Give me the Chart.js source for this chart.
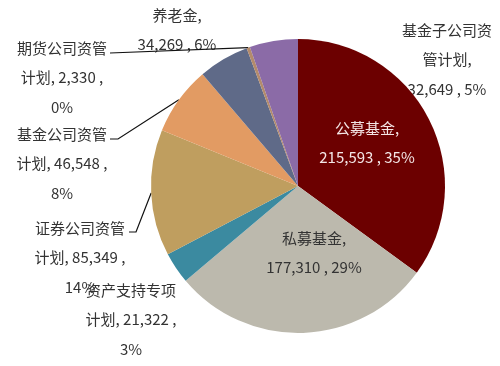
<!DOCTYPE html>
<html>
<head>
<meta charset="utf-8">
<script src="https://cdn.jsdelivr.net/npm/chart.js@4"></script>
<style>
  html, body { margin: 0; padding: 0; background: #fff; }
  #wrap { width: 500px; height: 366px; }
</style>
</head>
<body>
<div id="wrap"><canvas id="myChart" width="500" height="366"></canvas></div>
<script>
// --- DATA ---
const categories = ['公募基金', '私募基金', '资产支持专项计划', '证券公司资管计划',
                    '基金公司资管计划', '养老金', '期货公司资管计划', '基金子公司资管计划'];
const values = [215593, 177310, 21322, 85349, 46548, 34269, 2330, 32649];
const colors = ['#6c0000', '#bcb9ad', '#3b8aa0', '#bf9e5f', '#e29b63', '#5f6a88', '#b38b6c', '#8b6ba7'];

// label placement (centre x, first line y), wrap style, text colour, inside/outside, leader line anchor
const labelLayout = [
    { x: 367, y: 128, wrap: 'A', color: '#f4e6e6', inside: true },
    { x: 314, y: 238, wrap: 'A', color: '#333', inside: true },
    { x: 131, y: 290, wrap: 'B', color: '#333' },
    { x: 80,  y: 228, wrap: 'B', color: '#333', line: [[129, 232], [136, 232]] },
    { x: 62,  y: 134, wrap: 'B', color: '#333', line: [[110, 139], [118, 139]] },
    { x: 177, y: 15,  wrap: 'A', color: '#333' },
    { x: 62,  y: 48,  wrap: 'B', color: '#333', line: [[110, 53]] },
    { x: 447, y: 30,  wrap: 'C', color: '#333' }
];
const lineGap = 29.5;

const total = values.reduce((s, v) => s + v, 0);
const fmt = v => v.toLocaleString('en-US');

function labelLines(i) {
    const name = categories[i];
    const val = fmt(values[i]);
    const pct = Math.round(values[i] / total * 100) + '%';
    const w = labelLayout[i].wrap;
    if (w === 'A') return [name + ',', val + ' , ' + pct];
    if (w === 'B') return [name.slice(0, 6), name.slice(6) + ', ' + val + ' ,', pct];
    return [name.slice(0, 6), name.slice(6) + ',', val + ' , ' + pct];
}

function drawLabels(chart, inside) {
    const c = chart.ctx;
    const arcs = chart.getDatasetMeta(0).data;
    c.save();
    c.font = '15px "Noto Sans CJK SC", "Noto Sans", sans-serif';
    c.textAlign = 'center';
    c.textBaseline = 'middle';
    arcs.forEach((arc, i) => {
        const lay = labelLayout[i];
        if (!!lay.inside !== inside) return;
        if (lay.line) {
            const mid = (arc.startAngle + arc.endAngle) / 2;
            const px = arc.x + arc.outerRadius * Math.cos(mid);
            const py = arc.y + arc.outerRadius * Math.sin(mid);
            c.strokeStyle = '#111';
            c.lineWidth = 1.2;
            c.beginPath();
            lay.line.forEach((p, k) => k === 0 ? c.moveTo(p[0], p[1]) : c.lineTo(p[0], p[1]));
            c.lineTo(px, py);
            c.stroke();
        }
        c.fillStyle = lay.color;
        labelLines(i).forEach((t, k) => c.fillText(t, lay.x, lay.y + k * lineGap));
    });
    c.restore();
}

// outside labels go under the pie, inside labels on top
const pieLabels = {
    id: 'pieLabels',
    beforeDatasetsDraw(chart) { drawLabels(chart, false); },
    afterDatasetsDraw(chart) { drawLabels(chart, true); }
};

const ctx = document.getElementById('myChart').getContext('2d');
new Chart(ctx, {
    type: 'pie',
    data: {
        labels: categories,
        datasets: [{
            data: values,
            backgroundColor: colors,
            borderWidth: 0
        }]
    },
    options: {
        responsive: false,
        animation: false,
        layout: { padding: { left: 151, right: 55, top: 39, bottom: 33 } },
        plugins: {
            legend: { display: false },
            tooltip: { enabled: false }
        }
    },
    plugins: [pieLabels]
});
</script>
</body>
</html>
